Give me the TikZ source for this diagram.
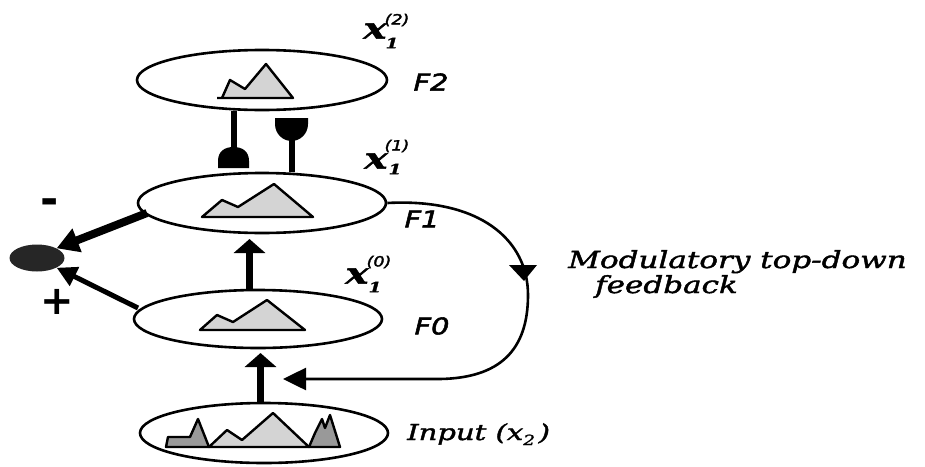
\documentclass[tikz,border=0pt]{standalone}
\usepackage{fontspec}
\setmainfont{DejaVu Sans}
\newfontfamily\labelfont{DejaVu Sans}[FakeStretch=1.25, FakeBold=2.4]
\newfontfamily\notefont{DejaVu Serif}[FakeStretch=1.32, FakeBold=1.8]
\usetikzlibrary{shapes.geometric, arrows.meta}
\definecolor{peaklight}{gray}{0.83}
\definecolor{peakdark}{gray}{0.6}
\definecolor{blobgray}{gray}{0.15}
\tikzset{
  layer/.style={ellipse, draw, line width=2.6pt, minimum width=248pt,
    minimum height=59pt, inner sep=0pt},
  peak/.style={fill=peaklight, draw, line width=2.4pt, line join=round},
  darkpeak/.style={fill=peakdark, draw, line width=2.4pt, line join=round},
  lbl/.style={font=\labelfont\itshape\fontsize{23}{25}\selectfont, inner sep=0pt},
  var/.style={font=\notefont\bfseries\itshape\fontsize{29}{32}\selectfont, inner sep=0pt},
  idx/.style={font=\notefont\bfseries\itshape\fontsize{14}{16}\selectfont, inner sep=0pt},
  supidx/.style={font=\labelfont\itshape\fontsize{14}{16}\selectfont, inner sep=0pt},
  note/.style={font=\notefont\itshape\fontsize{23.5}{26}\selectfont, inner sep=0pt},
  sign/.style={font=\bfseries\fontsize{40}{42}\selectfont, inner sep=0pt},
  fwd/.style={line width=6.5pt, -{Triangle[length=14pt,width=31pt]}},
  stem/.style={line width=6pt},
  fb/.style={line width=2.6pt}
}
\begin{document}
\begin{tikzpicture}[x=1pt, y=-1pt]
\useasboundingbox (0,0) rectangle (925,466);

% layers
\node[layer, minimum width=250pt, minimum height=60pt] (f2) at (262,80) {};
\node[layer, minimum height=60pt] (f1) at (262,203) {};
\node[layer, minimum height=58pt] (f0) at (258,319) {};
\node[layer, minimum height=60pt] (inp) at (264,433) {};

% activity profiles
\draw[peak] (217,98) -- (293,98) -- (266,64) -- (245,89) -- (230,80) -- (222,98);
\draw[peak] (202,217) -- (313,217) -- (274,184) -- (238,207) -- (222,200) -- cycle;
\draw[peak] (200,330) -- (305,330) -- (267,300) -- (233,322) -- (217,315) -- cycle;
\draw[darkpeak] (166,447) -- (168,437) -- (190,437) -- (198,419) -- (209,447) -- cycle;
\draw[darkpeak] (309,447) -- (315,433) -- (322,419) -- (325,428) -- (330,415) -- (340,447) -- cycle;
\draw[peak] (209,447) -- (227,430) -- (242,440) -- (273,413) -- (309,447) -- cycle;

% summing unit
\node[ellipse, fill=blobgray, minimum width=55pt, minimum height=27pt, inner sep=0pt] (sum) at (37,258) {};

% F2 <-> F1 synapses
\coordinate (bellL) at (233.5,168);
\coordinate (cupR) at (291.5,118);
\draw[stem] (f2.south -| bellL) -- ([yshift=10pt]bellL);
\fill (218,168) -- (218,161) .. controls (218,151) and (225,147) .. (233.5,147)
      .. controls (242,147) and (249,151) .. (249,161) -- (249,168) -- cycle;
\draw[stem] (f1.north -| cupR) -- ([yshift=-20pt]cupR);
\fill (275,118) -- (308,118) -- (308,124) .. controls (308,134) and (300,141) .. (291.5,141)
      .. controls (283,141) and (275,134) .. (275,124) -- cycle;

% bottom-up paths
\coordinate (upA) at (249.5,239);
\coordinate (upB) at (260.5,353);
\draw[fwd] (f0.north -| upA) -- (upA);
\draw[fwd] (inp.north -| upB) -- (upB);

% paths into the summing unit
\coordinate (outF1) at (147,213);
\coordinate (outF0) at (138,308);
\draw[line width=8pt, -{Triangle[length=22pt,width=24pt]}] (outF1) -- (sum.north east);
\draw[line width=5pt, -{Triangle[length=20pt,width=20pt]}] (outF0) -- (sum.south east);

% modulatory feedback loop
\coordinate (fbEnd) at (283,379);
\draw[fb, -{Triangle[length=23pt,width=22pt]}] (f1.east)
   .. controls (480,198) and (528,240) .. (528,295)
   .. controls (528,350) and (500,378) .. (440,379) -- (fbEnd);
\fill (509,265) -- (537,265) -- (524,281) -- cycle;

% labels
\node[sign, font=\bfseries\fontsize{44}{46}\selectfont] at (50,207) {-};
\node[sign] at (57,302) {+};

\node[lbl] at (431,82) {F2};
\node[lbl] at (422,219) {F1};
\node[lbl] at (432,326) {F0};

\node[var] at (375,31) {x};
\node[supidx] at (397,20) {(2)};
\node[idx] at (392,43) {1};

\node[var] at (376,161) {x};
\node[supidx] at (397,146) {(1)};
\node[idx] at (395,169) {1};

\node[var] at (357,276) {x};
\node[supidx] at (379,262) {(0)};
\node[idx] at (375,287) {1};

\node[note, font=\notefont\itshape\fontsize{22}{24}\selectfont, anchor=base west] at (407,440)
  {Input (x\raisebox{-5pt}{\fontsize{14}{15}\selectfont 2}\,)};
\node[note, anchor=base west] at (568,268) {Modulatory top-down};
\node[note, anchor=base west] at (595,293) {feedback};
\end{tikzpicture}
\end{document}
